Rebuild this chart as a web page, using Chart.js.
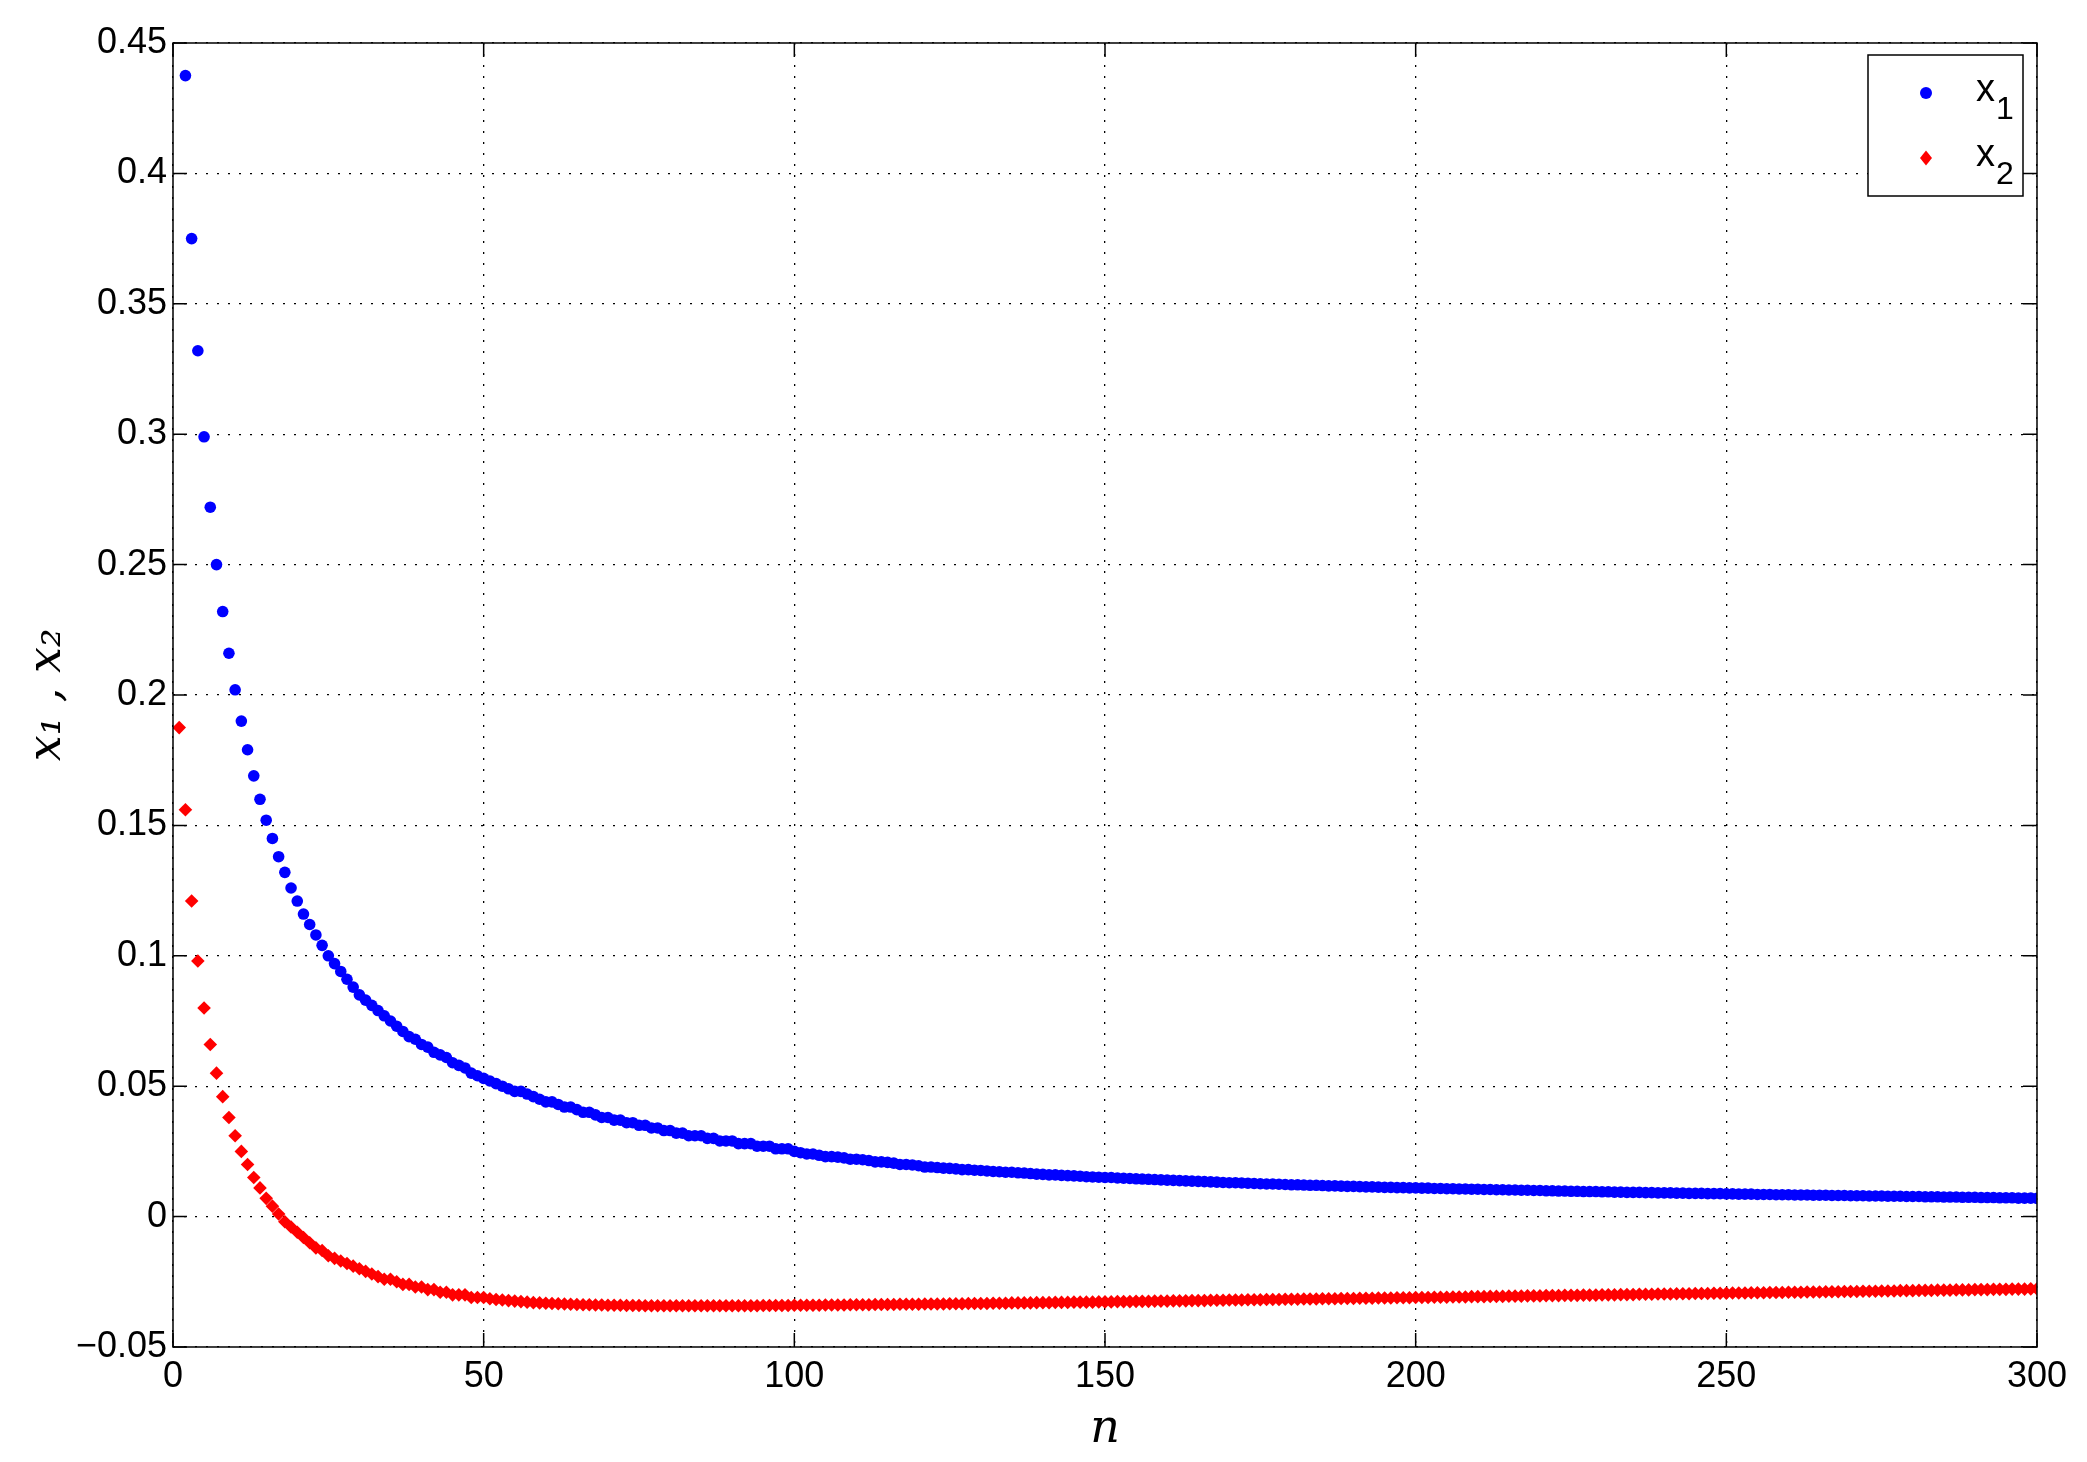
<!DOCTYPE html>
<html><head><meta charset="utf-8">
<script src="https://cdn.jsdelivr.net/npm/chart.js@4/dist/chart.umd.min.js"></script>
<style>html,body{margin:0;padding:0;background:#fff}#w{width:2087px;height:1462px}</style>
</head><body><div id="w"><canvas id="c"></canvas></div>
<script>
const xTicks = [0,50,100,150,200,250,300];
const yTicks = [-0.05,0,0.05,0.1,0.15,0.2,0.25,0.3,0.35,0.4,0.45];
const seriesNames = ['1','2'];
// x1 for n = 2..300
const x1 = [
.4375,.375,.332,.299,.272,.250,.232,.216,.202,
.190,.179,.169,.160,.152,.145,.138,.132,.126,.121,
.116,.112,.108,.104,.100,.097,.094,.091,.088,.085,
.083,.081,.079,.077,.075,.073,.071,.069,.068,.066,
.065,.063,.062,.061,.059,.058,.057,.055,.054,.053,
.052,.051,.050,.049,.048,.048,.047,.046,.045,.044,
.044,.043,.042,.042,.041,.040,.040,.039,.038,.038,
.037,.037,.036,.036,.035,.035,.034,.034,.033,.033,
.032,.032,.031,.031,.031,.030,.030,.029,.029,.029,
.028,.028,.028,.027,.027,.027,.026,.026,.026,.025,
.0245,.024,.024,.0235,.023,.023,.0228,.0225,.022,.022,
.0218,.0215,.021,.021,.0208,.0205,.020,.020,.0198,.0195,
.019,.019,.0188,.0186,.0185,.0183,.018,.018,.0178,.0177,
.0175,.0173,.0172,.017,.017,.0168,.0167,.0165,.0163,.0162,
.016,.016,.0158,.0157,.0156,.0155,.0153,.0152,.0151,.015,
.015,.0148,.0147,.0146,.0145,.0144,.0143,.0142,.0141,.014,
.0139,.0138,.0137,.0136,.0135,.0134,.0133,.0132,.0131,.013,
.013,.0129,.0128,.0127,.0126,.0125,.0125,.0124,.0123,.0122,
.0122,.0121,.012,.012,.0119,.0118,.0118,.0117,.0116,.0116,
.0115,.0114,.0114,.0113,.0112,.0112,.0111,.0111,.011,.011,
.0109,.0109,.0108,.0108,.0107,.0107,.0106,.0106,.0105,.0105,
.0104,.0104,.0103,.0103,.0102,.0102,.0101,.0101,.010,.010,
.0099,.0099,.0098,.0098,.0097,.0097,.0096,.0096,.0096,.0095,
.0095,.0094,.0094,.0093,.0093,.0093,.0092,.0092,.0091,.0091,
.0091,.009,.009,.0089,.0089,.0089,.0088,.0088,.0088,.0087,
.0087,.0086,.0086,.0086,.0085,.0085,.0085,.0084,.0084,.0084,
.0083,.0083,.0083,.0082,.0082,.0082,.0081,.0081,.0081,.008,
.008,.008,.0079,.0079,.0079,.0078,.0078,.0078,.0077,.0077,
.0077,.0076,.0076,.0076,.0075,.0075,.0075,.0074,.0074,.0074,
.0073,.0073,.0073,.0072,.0072,.0072,.0071,.0071,.0071,.007
];
// x2 for n = 1..300
const x2 = [
.1875,.156,.121,.098,.080,.066,.055,.046,.038,.031,
.025,.020,.015,.011,.007,.004,.001,-.002,-.004,-.006,
-.008,-.010,-.012,-.013,-.015,-.016,-.017,-.018,-.019,-.020,
-.021,-.022,-.023,-.024,-.024,-.025,-.026,-.026,-.027,-.027,
-.028,-.028,-.029,-.029,-.030,-.030,-.030,-.031,-.031,-.031,
-.0315,-.0318,-.032,-.0322,-.0324,-.0326,-.0328,-.033,-.0331,-.0332,
-.0333,-.0334,-.0335,-.0336,-.0337,-.0338,-.0338,-.0339,-.0339,-.034,
-.034,-.034,-.0341,-.0341,-.0341,-.0342,-.0342,-.0342,-.0342,-.0342,
-.0342,-.0342,-.0342,-.0342,-.0342,-.0342,-.0342,-.0342,-.0342,-.0342,
-.0342,-.0342,-.0342,-.0342,-.0341,-.0341,-.0341,-.0341,-.0341,-.034,
-.034,-.034,-.034,-.034,-.0339,-.0339,-.0339,-.0339,-.0338,-.0338,
-.0338,-.0338,-.0337,-.0337,-.0337,-.0337,-.0336,-.0336,-.0336,-.0336,
-.0335,-.0335,-.0335,-.0335,-.0334,-.0334,-.0334,-.0333,-.0333,-.0333,
-.0333,-.0332,-.0332,-.0332,-.0331,-.0331,-.0331,-.0331,-.033,-.033,
-.033,-.0329,-.0329,-.0329,-.0328,-.0328,-.0328,-.0328,-.0327,-.0327,
-.0327,-.0326,-.0326,-.0326,-.0325,-.0325,-.0325,-.0324,-.0324,-.0324,
-.0323,-.0323,-.0323,-.0322,-.0322,-.0322,-.0321,-.0321,-.0321,-.032,
-.032,-.032,-.0319,-.0319,-.0319,-.0318,-.0318,-.0318,-.0317,-.0317,
-.0317,-.0316,-.0316,-.0316,-.0315,-.0315,-.0315,-.0314,-.0314,-.0314,
-.0313,-.0313,-.0313,-.0312,-.0312,-.0312,-.0311,-.0311,-.0311,-.031,
-.031,-.031,-.0309,-.0309,-.0309,-.0308,-.0308,-.0308,-.0307,-.0307,
-.0307,-.0306,-.0306,-.0306,-.0305,-.0305,-.0305,-.0304,-.0304,-.0304,
-.0303,-.0303,-.0303,-.0302,-.0302,-.0302,-.0301,-.0301,-.0301,-.030,
-.030,-.030,-.0299,-.0299,-.0299,-.0298,-.0298,-.0298,-.0297,-.0297,
-.0297,-.0296,-.0296,-.0296,-.0295,-.0295,-.0295,-.0294,-.0294,-.0294,
-.0293,-.0293,-.0293,-.0292,-.0292,-.0292,-.0291,-.0291,-.0291,-.029,
-.029,-.029,-.0289,-.0289,-.0289,-.0288,-.0288,-.0288,-.0287,-.0287,
-.0287,-.0286,-.0286,-.0286,-.0285,-.0285,-.0285,-.0284,-.0284,-.0284,
-.0283,-.0283,-.0283,-.0282,-.0282,-.0282,-.0281,-.0281,-.0281,-.028,
-.028,-.028,-.0279,-.0279,-.0279,-.0278,-.0278,-.0278,-.0277,-.0277
];
const pts1 = x1.map((v,i)=>({x:i+2,y:v}));
const pts2 = x2.map((v,i)=>({x:i+1,y:v}));

const frame = {
  id:'frame',
  afterDraw(ch){
    const a = ch.chartArea, c = ch.ctx;
    c.save(); c.strokeStyle='#000'; c.lineWidth=1.5;
    c.strokeRect(a.left, a.top, a.right-a.left, a.bottom-a.top);
    const xs = ch.scales.x, ys = ch.scales.y;
    c.beginPath();
    xTicks.forEach(t=>{const p=xs.getPixelForValue(t); c.moveTo(p,a.bottom); c.lineTo(p,a.bottom-14); c.moveTo(p,a.top); c.lineTo(p,a.top+14);});
    yTicks.forEach(t=>{const p=ys.getPixelForValue(t); c.moveTo(a.left,p); c.lineTo(a.left+14,p); c.moveTo(a.right,p); c.lineTo(a.right-14,p);});
    c.stroke();
    const bx=1868, by=55, bw=155, bh=141;
    c.fillStyle='#fff'; c.fillRect(bx,by,bw,bh);
    c.lineWidth=1.5; c.strokeRect(bx,by,bw,bh);
    ch.data.datasets.forEach((d,i)=>{
      const yy = by + 38 + i*65;
      c.fillStyle = d.backgroundColor;
      c.beginPath();
      if(i===0){ c.arc(1926, yy, 6, 0, Math.PI*2); }
      else { c.moveTo(1926,yy-7.5); c.lineTo(1932,yy); c.lineTo(1926,yy+7.5); c.lineTo(1920,yy); c.closePath(); }
      c.fill();
      c.fillStyle='#000'; c.textBaseline='alphabetic';
      c.font="38px 'Liberation Sans', Arial, sans-serif";
      c.fillText('x', 1976, yy+8);
      c.font="32px 'Liberation Sans', Arial, sans-serif";
      c.fillText(seriesNames[i], 1996, yy+26);
    });
    c.restore();
  }
};

Chart.defaults.font.family = "'Liberation Sans', Arial, sans-serif";
new Chart(document.getElementById('c'), {
  type:'scatter',
  data:{datasets:[
    {label:'x1', data:pts1, backgroundColor:'#0000ff', borderColor:'#0000ff', pointStyle:'circle', pointRadius:5.8, borderWidth:0},
    {label:'x2', data:pts2, backgroundColor:'#ff0000', borderColor:'#ff0000', pointStyle:'rectRot', pointRadius:6.8, borderWidth:0}
  ]},
  options:{
    responsive:true, maintainAspectRatio:false, animation:false,
    layout:{padding:{top:43,right:50,left:0,bottom:0}},
    plugins:{ tooltip:{enabled:false}, legend:{display:false} },
    scales:{
      x:{type:'linear', min:0, max:300,
        afterBuildTicks(s){s.ticks = xTicks.map(v=>({value:v}));},
        afterFit(s){s.height=115;},
        grid:{color:'#000', lineWidth:1.3, drawTicks:false},
        border:{display:false, dash:[2,9]},
        ticks:{color:'#000', font:{size:36}, padding:8, maxRotation:0},
        title:{display:true, text:'n', color:'#000', font:{family:"'DejaVu Serif', serif", style:'italic', size:46}, padding:{top:-24}}
      },
      y:{type:'linear', min:-0.05, max:0.45,
        afterBuildTicks(s){s.ticks = yTicks.map(v=>({value:v}));},
        afterFit(s){s.width=173;},
        grid:{color:'#000', lineWidth:1.3, drawTicks:false},
        border:{display:false, dash:[2,9]},
        ticks:{color:'#000', font:{size:36}, padding:6, callback:v=>(v<0?'\u2212':'')+String(Math.abs(Math.round(v*100)/100))},
        title:{display:true, text:'x\u2081 , x\u2082', color:'#000', font:{family:"'DejaVu Serif', serif", style:'italic', size:46}, padding:{top:20,bottom:0}}
      }
    }
  },
  plugins:[frame]
});
</script></body></html>
